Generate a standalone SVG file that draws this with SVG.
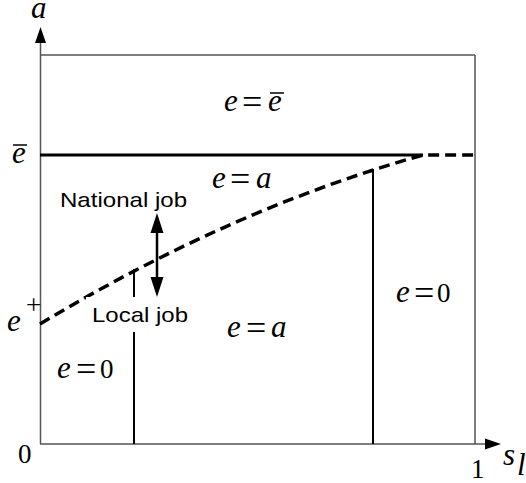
<svg xmlns="http://www.w3.org/2000/svg" width="526" height="483" viewBox="0 0 526 483">
<style>
.frame{stroke:#555;stroke-width:1.5;fill:none}
.solid{stroke:#000;stroke-width:2;fill:none}
.thick{stroke:#000;stroke-width:3;fill:none}
.dash{stroke:#000;stroke-width:3.5;fill:none;stroke-dasharray:11 6}
.m{font-family:"Liberation Serif","Times New Roman",serif;font-style:italic;font-size:31px;fill:#000}
.n{font-family:"Liberation Serif","Times New Roman",serif;font-size:27px;fill:#000}
.eq{font-family:"Liberation Serif","Times New Roman",serif;font-size:36px;fill:#000}
.s{font-family:"Liberation Sans",Arial,sans-serif;font-size:21px;fill:#000}
</style>
<rect width="526" height="483" fill="#fff"/>
<g id="axes">
<line class="frame" x1="40.5" y1="444" x2="40.5" y2="42"/>
<path d="M40.5,27 L46,43 L35,43 z" fill="#000"/>
<line class="frame" x1="40" y1="444" x2="486" y2="444"/>
<path d="M501,444 L485,438.5 L485,449.5 z" fill="#000"/>
<line class="frame" x1="40" y1="55" x2="475" y2="55"/>
<line class="frame" x1="475" y1="55" x2="475" y2="444"/>
</g>
<g id="connectors">
<line class="thick" x1="40" y1="155" x2="423" y2="155"/>
<path class="dash" d="M40,324 C168,247 295,191 423,155 L475,155"/>
<line class="solid" x1="134" y1="269" x2="134" y2="444"/>
<line class="solid" x1="373" y1="169" x2="373" y2="444"/>
<line stroke="#000" stroke-width="2.5" x1="157" y1="230" x2="157" y2="280"/>
<path d="M157,213 L163.5,233 L150.5,233 z" fill="#000"/>
<path d="M157,297 L163.5,277 L150.5,277 z" fill="#000"/>
</g>
<g id="axis-labels">
<text class="m" x="31" y="18" font-size="27">a</text>
<text class="m" x="12" y="163">e</text>
<line stroke="#000" stroke-width="1.5" x1="13" y1="145" x2="27" y2="145"/>
<text class="m" x="7" y="331">e</text>
<text class="n" x="26" y="314" font-size="20">+</text>
<text class="n" x="18" y="463">0</text>
<text class="n" x="471" y="478">1</text>
<text class="m" x="503" y="465" font-size="30">s</text>
<text class="m" x="517" y="475" font-size="22">l</text>
</g>
<g id="region-top">
<text class="m" x="224" y="111">e</text>
<text class="eq" x="242" y="114">=</text>
<text class="m" x="268" y="111">e</text>
<line stroke="#000" stroke-width="1.5" x1="270" y1="93" x2="284" y2="93"/>
</g>
<g id="region-upper-a">
<text class="m" x="212" y="188">e</text>
<text class="eq" x="230" y="191">=</text>
<text class="m" x="256" y="188">a</text>
</g>
<g id="region-mid-a">
<text class="m" x="227" y="337">e</text>
<text class="eq" x="246" y="340">=</text>
<text class="m" x="271" y="337">a</text>
</g>
<g id="region-right-0">
<text class="m" x="396" y="302">e</text>
<text class="eq" x="414" y="305">=</text>
<text class="n" x="437" y="302" font-size="29">0</text>
</g>
<g id="region-left-0">
<text class="m" x="57" y="378">e</text>
<text class="eq" x="76" y="381">=</text>
<text class="n" x="100" y="378" font-size="29">0</text>
</g>
<g id="national-job">
<text class="s" x="60" y="207" textLength="127" lengthAdjust="spacingAndGlyphs">National job</text>
</g>
<g id="local-job">
<rect x="86" y="297" width="118" height="35" fill="#fff"/>
<text class="s" x="92" y="322" font-size="23" textLength="96" lengthAdjust="spacingAndGlyphs">Local job</text>
</g>
</svg>
